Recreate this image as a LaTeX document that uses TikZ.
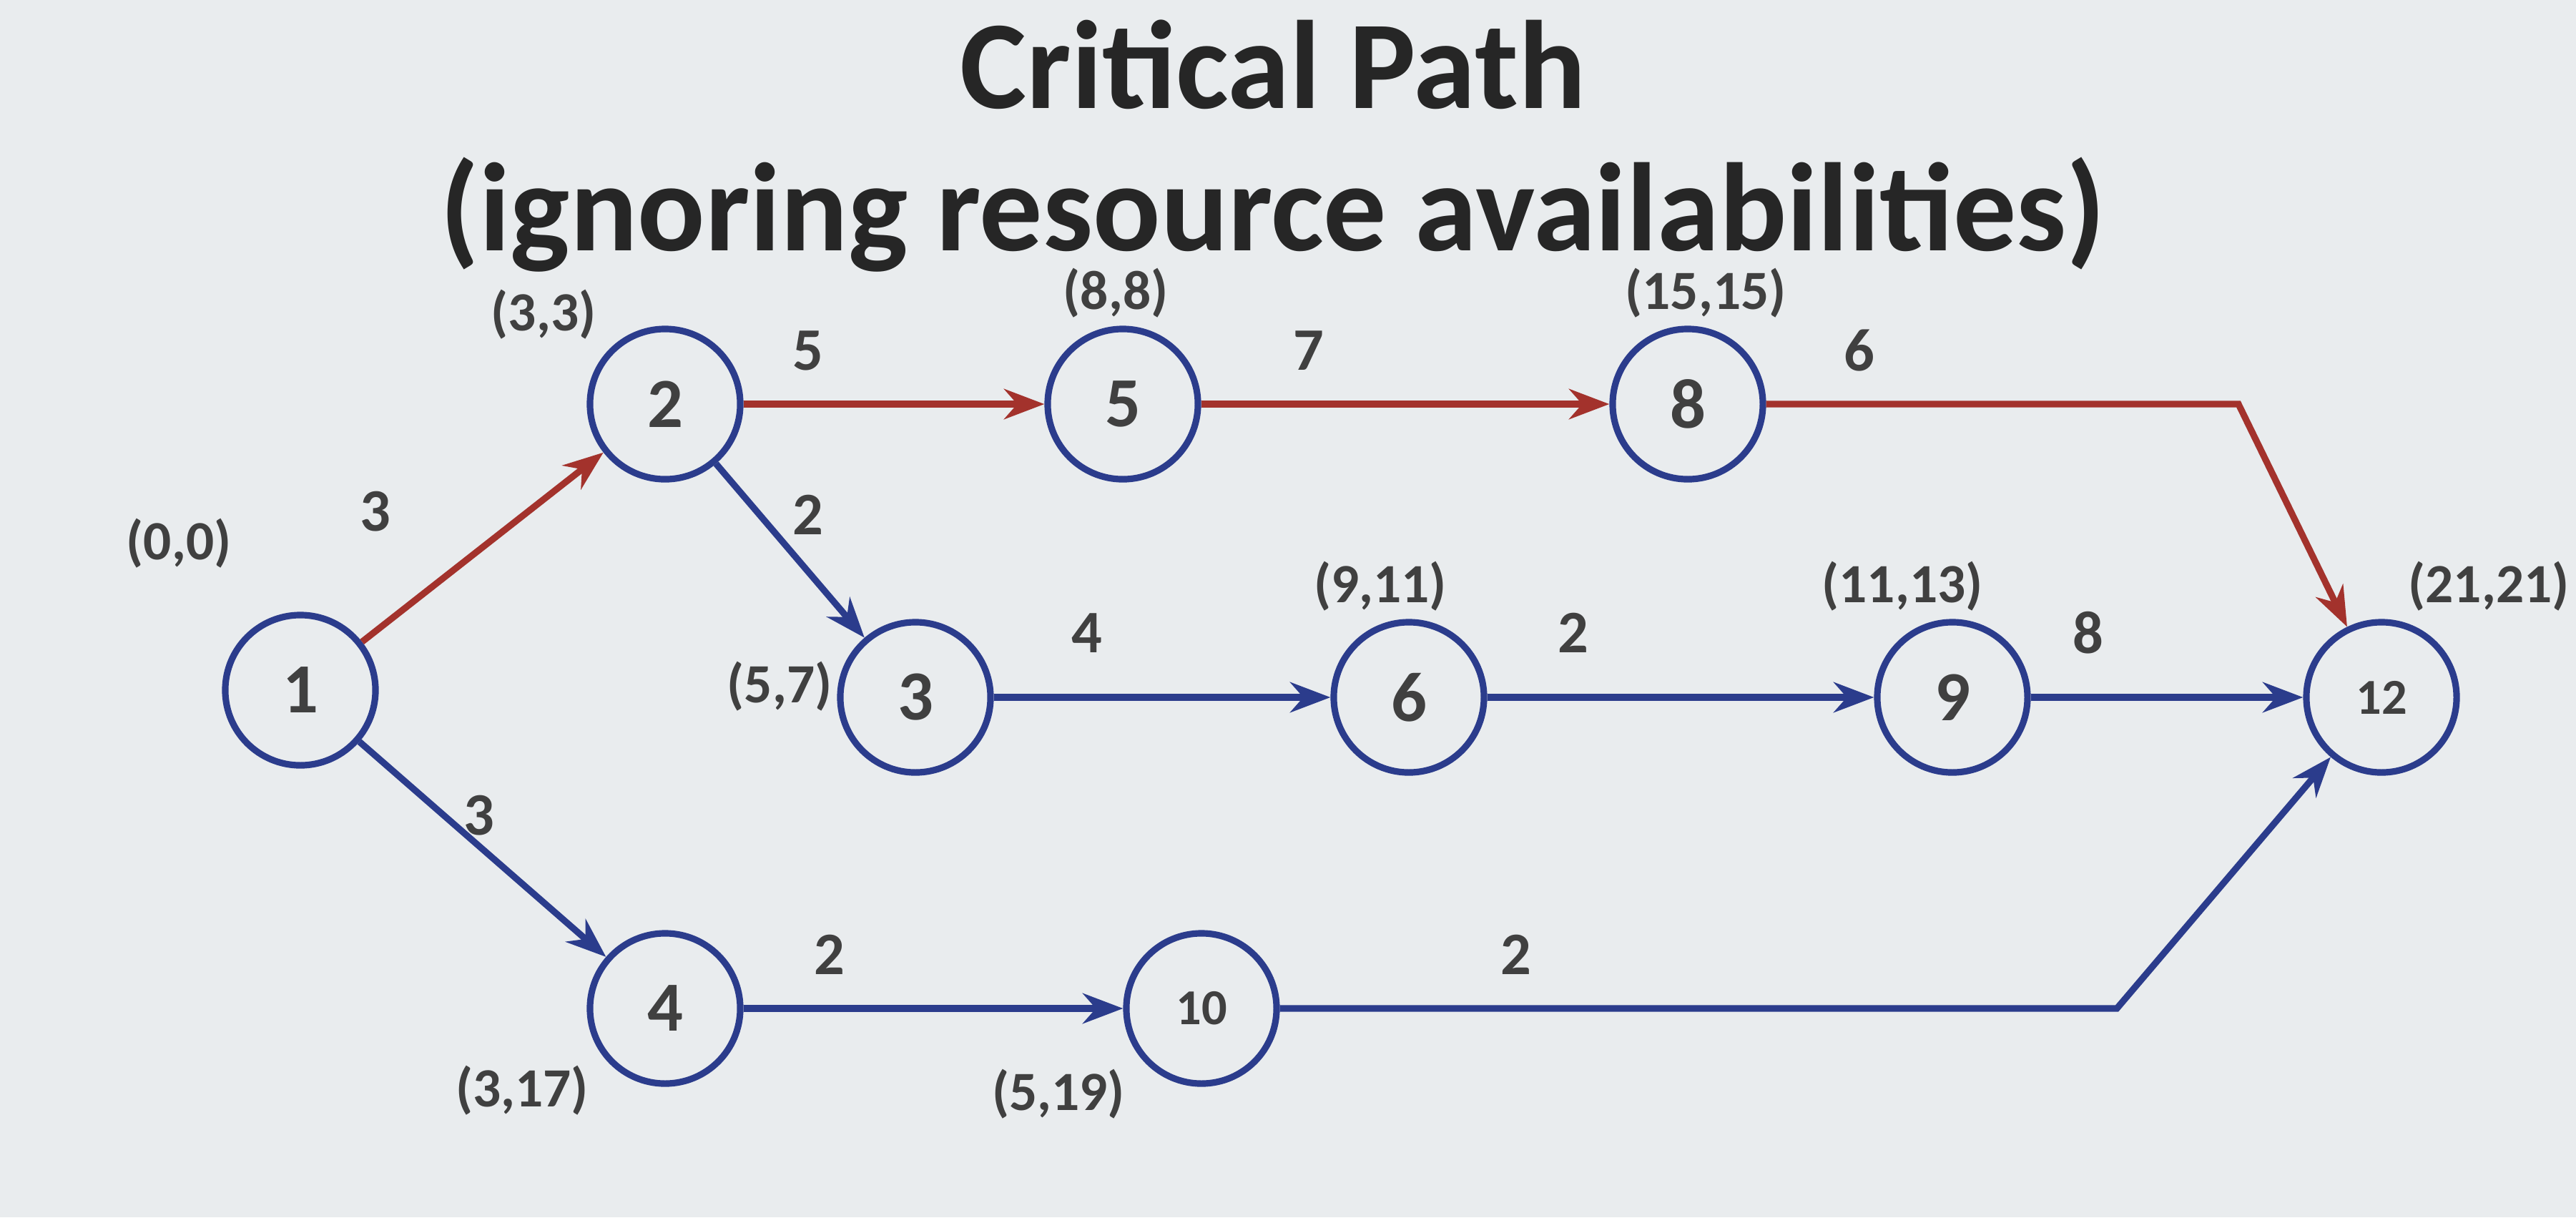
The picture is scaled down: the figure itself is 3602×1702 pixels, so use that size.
\documentclass[tikz,border=0pt]{standalone}
\usepackage{fontspec}
\setmainfont{Carlito}
\usetikzlibrary{arrows.meta}
\definecolor{bg}{HTML}{E9ECEE}
\definecolor{cred}{HTML}{A3322C}
\definecolor{cblue}{HTML}{2B3C8C}
\begin{document}
\begin{tikzpicture}[x=0.01cm,y=-0.01cm,
  ev/.style={circle,draw=cblue,line width=2.6pt,minimum size=2.1cm,inner sep=0pt,font=\fontsize{28}{30}\selectfont\bfseries,text=black!75},
  evs/.style={ev,font=\fontsize{20}{22}\selectfont\bfseries},
  rd/.style={draw=cred,line width=2.6pt,-{Stealth[length=16pt,width=12pt]}},
  bl/.style={draw=cblue,line width=2.6pt,-{Stealth[length=16pt,width=12pt]}},
  lb/.style={font=\fontsize{22}{24}\selectfont\bfseries,text=black!75},
  wt/.style={font=\fontsize{24}{26}\selectfont\bfseries,text=black!75}]
\fill[bg] (0,0) rectangle (3602,1702);
\useasboundingbox (0,0) rectangle (3602,1702);
\node[font=\fontsize{50}{56}\selectfont\bfseries,text=black!85,inner sep=0pt] (t1) at (1780,90) {Critical Path};
\node[font=\fontsize{50}{56}\selectfont\bfseries,text=black!85,inner sep=0pt] (t2) at (1780,300) {(ignoring resource availabilities)};
\node[ev] (n1) at (420,965) {1};
\node[ev] (n2) at (930,565) {2};
\node[ev] (n5) at (1570,565) {5};
\node[ev] (n8) at (2360,565) {8};
\node[ev] (n3) at (1280,975) {3};
\node[ev] (n6) at (1970,975) {6};
\node[ev] (n9) at (2730,975) {9};
\node[evs] (n12) at (3330,975) {12};
\node[ev] (n4) at (930,1410) {4};
\node[evs] (n10) at (1680,1410) {10};
\coordinate (c8) at (3130,565);
\coordinate (c10) at (2960,1410);
\draw[rd] (n1) -- (n2);
\draw[rd] (n2) -- (n5);
\draw[rd] (n5) -- (n8);
\draw[rd] (n8) -- (c8) -- (n12);
\draw[bl] (n2) -- (n3);
\draw[bl] (n3) -- (n6);
\draw[bl] (n6) -- (n9);
\draw[bl] (n9) -- (n12);
\draw[bl] (n1) -- (n4);
\draw[bl] (n4) -- (n10);
\draw[bl] (n10) -- (c10) -- (n12);
\node[wt] (w1) at (525,715) {3};
\node[wt] (w2) at (1130,490) {5};
\node[wt] (w3) at (1130,720) {2};
\node[wt] (w4) at (1830,490) {7};
\node[wt] (w5) at (2600,490) {6};
\node[wt] (w6) at (1520,885) {4};
\node[wt] (w7) at (2200,885) {2};
\node[wt] (w8) at (2920,885) {8};
\node[wt] (w9) at (670,1140) {3};
\node[wt] (w10) at (1160,1335) {2};
\node[wt] (w11) at (2120,1335) {2};
\node[lb] (l1) at (250,760) {(0,0)};
\node[lb] (l2) at (760,440) {(3,3)};
\node[lb] (l5) at (1560,410) {(8,8)};
\node[lb] (l8) at (2385,410) {(15,15)};
\node[lb] (l3) at (1090,960) {(5,7)};
\node[lb] (l6) at (1930,820) {(9,11)};
\node[lb] (l9) at (2660,820) {(11,13)};
\node[lb] (l12) at (3480,820) {(21,21)};
\node[lb] (l4) at (730,1525) {(3,17)};
\node[lb] (l10) at (1480,1530) {(5,19)};
\end{tikzpicture}
\end{document}
